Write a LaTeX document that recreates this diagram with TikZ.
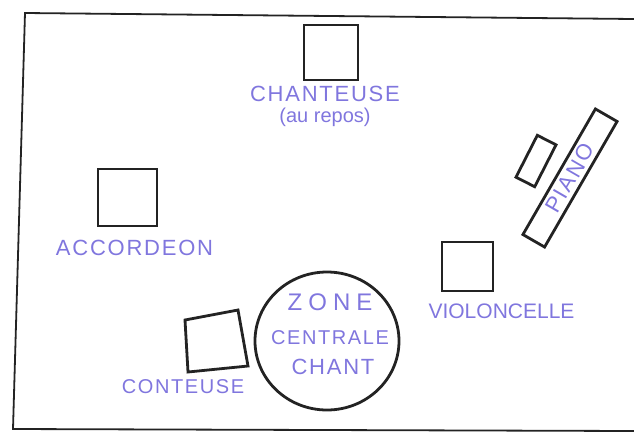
\documentclass[tikz,border=0pt]{standalone}
\usepackage{fontspec}
\setmainfont{Liberation Sans}
\usepackage{xcolor}
\definecolor{lavande}{RGB}{128,118,222}
\definecolor{crayon}{RGB}{35,35,35}
\usepackage{tikz}
\usetikzlibrary{positioning,shapes.geometric}

\begin{document}
\begin{tikzpicture}[
    x=1pt,y=-1pt,
    meuble/.style={draw=crayon,line width=2.8pt,rectangle,inner sep=0pt},
    etiquette/.style={text=lavande,inner sep=0pt,
      font=\fontsize{#1}{#1}\selectfont\addfontfeature{LetterSpace=8}},
    etiquette/.default=22,
    bord/.style={draw=crayon,line width=1.8pt,line cap=round}
    ]
    \useasboundingbox (0,0) rectangle (634,432);

    % scene
    \draw[bord] (634,19) -- (25,13) -- (13,429) -- (634,431);

    % chanteuse
    \node[meuble,minimum width=54pt,minimum height=55pt] (chanteuse) at (331,52.5) {};
    \node[etiquette,below=5pt of chanteuse,xshift=-6pt] (chanteuseTxt) {CHANTEUSE};
    \node[etiquette=20,font=\fontsize{20}{20}\selectfont,below=5pt of chanteuseTxt] (reposTxt) {(au repos)};

    % accordeon
    \node[meuble,minimum width=59pt,minimum height=57pt] (accordeon) at (127.5,197.5) {};
    \node[etiquette,below=13pt of accordeon,xshift=7pt] (accordeonTxt) {ACCORDEON};

    % piano + banc
    \node[meuble,etiquette,minimum width=145pt,minimum height=25pt,rotate=60] (piano) at (570,178) {PIANO};
    \node[meuble,minimum width=47pt,minimum height=21pt,rotate=63] (banc) at (536,161) {};

    % violoncelle
    \node[meuble,minimum width=51pt,minimum height=49pt] (violoncelle) at (467.5,266.5) {};
    \node[etiquette=21,font=\fontsize{21}{21}\selectfont,below=11pt of violoncelle,xshift=34pt] (violoncelleTxt) {VIOLONCELLE};

    % zone centrale
    \node[draw=crayon,line width=2.8pt,ellipse,minimum width=144pt,minimum height=138pt,inner sep=0pt] (zone) at (327,341) {};
    \node[etiquette=24,font=\fontsize{24}{24}\selectfont\addfontfeature{LetterSpace=25}] (zoneTxt) at (330,302) {ZONE};
    \node[etiquette=20] (centraleTxt) at (330,338) {CENTRALE};
    \node[etiquette] (chantTxt) at (333,367) {CHANT};

    % conteuse
    \draw[meuble] (185,320) -- (238,310) -- (248,366) -- (188,372) -- cycle;
    \node[etiquette=20] (conteuseTxt) at (183,387) {CONTEUSE};
  \end{tikzpicture}
\end{document}
